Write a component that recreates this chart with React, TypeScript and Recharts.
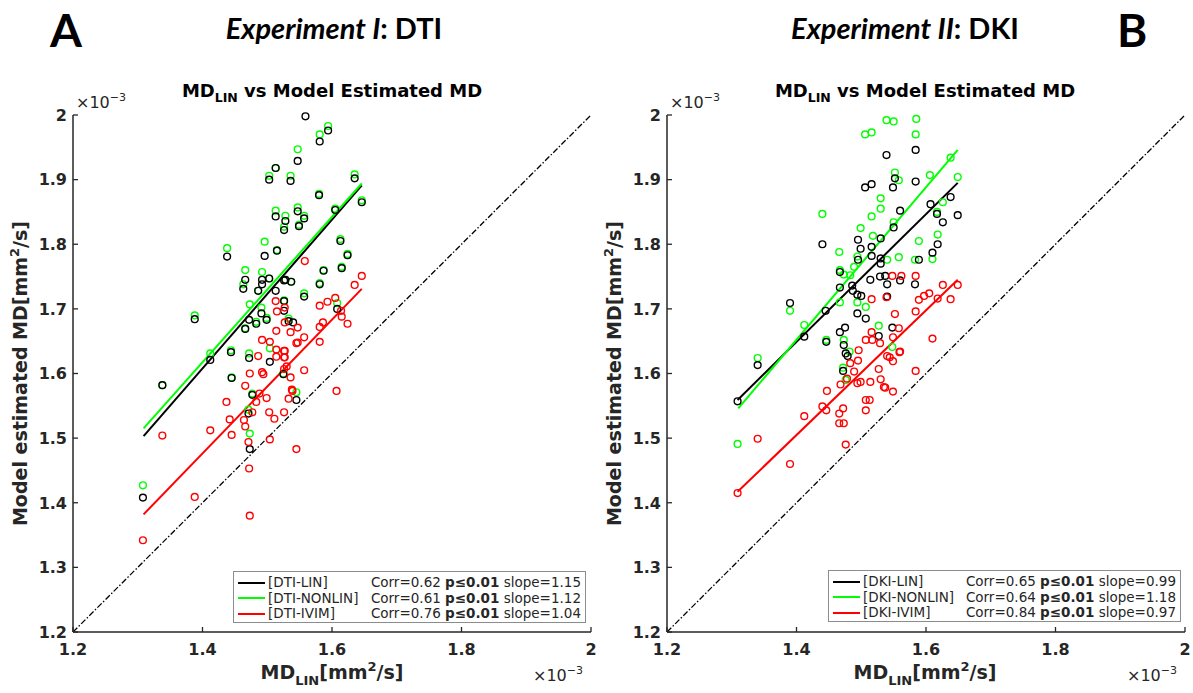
import React from "react";
import { ReferenceLine, Scatter, ScatterChart, XAxis, YAxis } from "recharts";

// values in units of 1e-3 mm^2/s: [MD_LIN, model estimated MD]
type P = [number, number];

const X_TICKS = [1.2, 1.4, 1.6, 1.8, 2];
const Y_TICKS = [1.2, 1.3, 1.4, 1.5, 1.6, 1.7, 1.8, 1.9, 2];

// Experiment I: DTI
const dtiLin: P[] = [
  [1.308, 1.408], [1.338, 1.582], [1.388, 1.684], [1.412, 1.621], [1.438, 1.781],
  [1.444, 1.633], [1.445, 1.593], [1.463, 1.731], [1.466, 1.745], [1.466, 1.669],
  [1.472, 1.683], [1.472, 1.624], [1.471, 1.538], [1.473, 1.483], [1.477, 1.567],
  [1.483, 1.677], [1.486, 1.728], [1.491, 1.693], [1.492, 1.745], [1.492, 1.738],
  [1.496, 1.782], [1.499, 1.683], [1.503, 1.747], [1.503, 1.9], [1.504, 1.618],
  [1.513, 1.918], [1.513, 1.843], [1.513, 1.728], [1.515, 1.79], [1.525, 1.599],
  [1.526, 1.822], [1.526, 1.744], [1.526, 1.712], [1.526, 1.697], [1.528, 1.836],
  [1.528, 1.745], [1.533, 1.681], [1.536, 1.898], [1.537, 1.742], [1.54, 1.679],
  [1.545, 1.559], [1.547, 1.929], [1.547, 1.851], [1.549, 1.828], [1.557, 1.84],
  [1.557, 1.719], [1.559, 1.998], [1.58, 1.876], [1.581, 1.959], [1.581, 1.738],
  [1.587, 1.759], [1.594, 1.976], [1.605, 1.853], [1.608, 1.7], [1.613, 1.805],
  [1.615, 1.763], [1.624, 1.783], [1.635, 1.902], [1.646, 1.865],
];
const dtiNonlin: P[] = [
  [1.308, 1.427], [1.338, 1.582], [1.388, 1.69], [1.412, 1.631], [1.438, 1.794],
  [1.444, 1.636], [1.445, 1.594], [1.463, 1.738], [1.466, 1.76], [1.466, 1.67],
  [1.471, 1.544], [1.472, 1.631], [1.473, 1.707], [1.473, 1.507], [1.477, 1.569],
  [1.483, 1.68], [1.486, 1.728], [1.491, 1.702], [1.492, 1.757], [1.496, 1.804],
  [1.499, 1.686], [1.503, 1.906], [1.503, 1.747], [1.504, 1.639], [1.513, 1.918],
  [1.513, 1.852], [1.515, 1.791], [1.525, 1.6], [1.526, 1.827], [1.526, 1.713],
  [1.528, 1.844], [1.528, 1.745], [1.533, 1.685], [1.536, 1.906], [1.537, 1.742],
  [1.545, 1.571], [1.547, 1.947], [1.547, 1.857], [1.549, 1.83], [1.557, 1.844],
  [1.557, 1.724], [1.58, 1.878], [1.581, 1.97], [1.581, 1.74], [1.587, 1.76],
  [1.594, 1.983], [1.605, 1.855], [1.608, 1.709], [1.613, 1.808], [1.615, 1.765],
  [1.624, 1.785], [1.635, 1.908], [1.646, 1.868],
];
const dtiIvim: P[] = [
  [1.308, 1.342], [1.338, 1.504], [1.388, 1.409], [1.412, 1.512], [1.437, 1.556],
  [1.442, 1.529], [1.445, 1.505], [1.464, 1.528], [1.466, 1.518], [1.471, 1.494],
  [1.473, 1.6], [1.466, 1.581], [1.472, 1.453], [1.473, 1.38], [1.486, 1.627],
  [1.488, 1.569], [1.483, 1.556], [1.499, 1.562], [1.477, 1.54], [1.503, 1.54],
  [1.511, 1.53], [1.504, 1.498], [1.492, 1.652], [1.504, 1.649], [1.492, 1.602],
  [1.494, 1.599], [1.513, 1.712], [1.515, 1.696], [1.514, 1.637], [1.527, 1.635],
  [1.527, 1.625], [1.514, 1.626], [1.526, 1.54], [1.545, 1.483], [1.526, 1.607],
  [1.53, 1.611], [1.536, 1.594], [1.538, 1.575], [1.533, 1.561], [1.557, 1.605],
  [1.547, 1.648], [1.557, 1.656], [1.536, 1.664], [1.547, 1.671], [1.527, 1.679],
  [1.514, 1.666], [1.527, 1.702], [1.558, 1.774], [1.581, 1.705], [1.593, 1.711],
  [1.605, 1.717], [1.614, 1.697], [1.615, 1.688], [1.624, 1.677], [1.581, 1.672],
  [1.586, 1.679], [1.646, 1.751], [1.635, 1.737], [1.581, 1.649], [1.607, 1.573],
  [1.539, 1.573], [1.526, 1.635], [1.526, 1.625], [1.545, 1.647],
];

// Experiment II: DKI
const dkiLin: P[] = [
  [1.309, 1.557], [1.34, 1.613], [1.39, 1.709], [1.412, 1.657], [1.44, 1.8],
  [1.445, 1.697], [1.446, 1.649], [1.467, 1.757], [1.467, 1.733], [1.467, 1.664],
  [1.473, 1.644], [1.472, 1.604], [1.475, 1.671], [1.476, 1.631], [1.479, 1.627],
  [1.486, 1.736], [1.487, 1.728], [1.494, 1.722], [1.494, 1.693], [1.495, 1.807],
  [1.495, 1.776], [1.499, 1.793], [1.5, 1.72], [1.506, 1.888], [1.507, 1.685],
  [1.514, 1.745], [1.516, 1.893], [1.516, 1.796], [1.516, 1.782], [1.527, 1.658],
  [1.529, 1.75], [1.53, 1.809], [1.53, 1.778], [1.53, 1.77], [1.537, 1.751],
  [1.539, 1.938], [1.54, 1.738], [1.54, 1.719], [1.548, 1.671], [1.549, 1.888],
  [1.55, 1.826], [1.552, 1.902], [1.56, 1.852], [1.56, 1.744], [1.583, 1.738],
  [1.584, 1.946], [1.584, 1.897], [1.589, 1.776], [1.607, 1.862], [1.61, 1.787],
  [1.617, 1.847], [1.618, 1.8], [1.626, 1.834], [1.638, 1.873], [1.649, 1.845],
];
const dkiNonlin: P[] = [
  [1.309, 1.491], [1.34, 1.624], [1.39, 1.697], [1.412, 1.675], [1.44, 1.847],
  [1.446, 1.652], [1.466, 1.788], [1.467, 1.76], [1.467, 1.71], [1.472, 1.609],
  [1.473, 1.753], [1.473, 1.652], [1.476, 1.59], [1.482, 1.634], [1.483, 1.752],
  [1.489, 1.765], [1.494, 1.781], [1.494, 1.71], [1.499, 1.825], [1.506, 1.97],
  [1.507, 1.703], [1.516, 1.973], [1.516, 1.843], [1.518, 1.813], [1.527, 1.674],
  [1.53, 1.871], [1.53, 1.855], [1.539, 1.992], [1.54, 1.776], [1.548, 1.641],
  [1.55, 1.99], [1.55, 1.834], [1.552, 1.911], [1.558, 1.899], [1.558, 1.78],
  [1.583, 1.776], [1.584, 1.97], [1.585, 1.994], [1.589, 1.805], [1.606, 1.907],
  [1.61, 1.777], [1.617, 1.85], [1.618, 1.815], [1.626, 1.865], [1.638, 1.934],
  [1.649, 1.904],
];
const dkiIvim: P[] = [
  [1.309, 1.415], [1.34, 1.499], [1.39, 1.46], [1.412, 1.534], [1.44, 1.549],
  [1.446, 1.543], [1.447, 1.573], [1.466, 1.538], [1.466, 1.523], [1.468, 1.583],
  [1.472, 1.546], [1.473, 1.523], [1.476, 1.49], [1.478, 1.592], [1.483, 1.616],
  [1.489, 1.603], [1.494, 1.585], [1.495, 1.62], [1.496, 1.636], [1.499, 1.587],
  [1.507, 1.652], [1.507, 1.559], [1.507, 1.543], [1.513, 1.559], [1.514, 1.587],
  [1.516, 1.664], [1.516, 1.715], [1.517, 1.652], [1.527, 1.607], [1.529, 1.647],
  [1.53, 1.591], [1.535, 1.579], [1.537, 1.578], [1.539, 1.718], [1.54, 1.627],
  [1.544, 1.625], [1.548, 1.751], [1.549, 1.656], [1.549, 1.619], [1.549, 1.572],
  [1.552, 1.692], [1.558, 1.67], [1.559, 1.633], [1.56, 1.634], [1.562, 1.751],
  [1.584, 1.751], [1.584, 1.696], [1.584, 1.604], [1.589, 1.714], [1.597, 1.72],
  [1.605, 1.724], [1.61, 1.654], [1.618, 1.716], [1.626, 1.737], [1.638, 1.715],
  [1.649, 1.737],
];

// least-squares lines (endpoints), order: LIN, NONLIN, IVIM
const dtiFits: [P, P][] = [
  [[1.309, 1.503], [1.646, 1.891]],
  [[1.309, 1.515], [1.646, 1.894]],
  [[1.309, 1.382], [1.646, 1.731]],
];
const dkiFits: [P, P][] = [
  [[1.309, 1.559], [1.649, 1.895]],
  [[1.31, 1.546], [1.649, 1.946]],
  [[1.309, 1.417], [1.649, 1.745]],
];

const dtiNames = ["DTI-LIN", "DTI-NONLIN", "DTI-IVIM"];
const dkiNames = ["DKI-LIN", "DKI-NONLIN", "DKI-IVIM"];
const dtiCorr = [0.62, 0.61, 0.76];
const dkiCorr = [0.65, 0.64, 0.84];
const dtiSlope = [1.15, 1.12, 1.04];
const dkiSlope = [0.99, 1.18, 0.97];

const COLORS = ["#000000", "#00ff00", "#ff0000"]; // LIN, NONLIN, IVIM
const AXIS = "#262626";
const FONT = "'DejaVu Sans', sans-serif";
const HEAD_FONT = "Lato, 'Open Sans', sans-serif";

const PLOT_TOP = 115;
const PLOT_W = 518;
const PLOT_H = 517;
const Y_W = 60;
const X_H = 50;
const MARGIN = { top: 12, right: 16, bottom: 0, left: 0 };

const fmt = (v: number) => (v === 2 ? "2" : v.toFixed(1));
const toPts = (arr: P[]) => arr.map(([x, y]) => ({ x, y }));

const ring = (color: string) => (props: any) =>
  <circle cx={props.cx} cy={props.cy} r={3.4} fill="none" stroke={color} strokeWidth={1.4} />;

function YTick(props: any) {
  const { x, y, payload } = props;
  return (
    <g>
      <line x1={x + 6} x2={x + 11} y1={y} y2={y} stroke={AXIS} strokeWidth={1.3} />
      <text x={x} y={y} dy="0.36em" textAnchor="end" fill={AXIS}
        fontFamily={FONT} fontWeight="bold" fontSize={16}>
        {fmt(payload.value)}
      </text>
    </g>
  );
}

function XTick(props: any) {
  const { x, y, payload } = props;
  return (
    <g>
      <line x1={x} x2={x} y1={y - 11} y2={y - 16} stroke={AXIS} strokeWidth={1.3} />
      <text x={x} y={y} dy="0.75em" textAnchor="middle" fill={AXIS}
        fontFamily={FONT} fontWeight="bold" fontSize={16}>
        {fmt(payload.value)}
      </text>
    </g>
  );
}

type PanelProps = {
  plotLeft: number;
  series: P[][]; // LIN, NONLIN, IVIM
  fits: [P, P][];
};

function Panel({ plotLeft, series, fits }: PanelProps) {
  const [lin, nonlin, ivim] = series;
  return (
    <div style={{ position: "absolute", left: plotLeft - Y_W, top: PLOT_TOP - MARGIN.top }}>
      <ScatterChart width={Y_W + PLOT_W + MARGIN.right} height={MARGIN.top + PLOT_H + X_H} margin={MARGIN}>
        <XAxis type="number" dataKey="x" domain={[1.2, 2]} ticks={X_TICKS} height={X_H}
          axisLine={{ stroke: AXIS, strokeWidth: 1.5 }} tickLine={false} tickSize={0} tickMargin={11}
          tick={<XTick />} interval={0} />
        <YAxis type="number" dataKey="y" domain={[1.2, 2]} ticks={Y_TICKS} width={Y_W}
          axisLine={{ stroke: AXIS, strokeWidth: 1.5 }} tickLine={false} tickSize={0} tickMargin={6}
          tick={<YTick />} interval={0} />
        <ReferenceLine segment={[{ x: 1.2, y: 1.2 }, { x: 2, y: 2 }]} stroke="#000"
          strokeWidth={1.3} strokeDasharray="6 2 1.5 2" />
        <Scatter data={toPts(nonlin)} shape={ring(COLORS[1])} isAnimationActive={false} />
        <Scatter data={toPts(lin)} shape={ring(COLORS[0])} isAnimationActive={false} />
        <Scatter data={toPts(ivim)} shape={ring(COLORS[2])} isAnimationActive={false} />
        {fits.map(([a, b], i) => (
          <ReferenceLine key={i} segment={[{ x: a[0], y: a[1] }, { x: b[0], y: b[1] }]}
            stroke={COLORS[i]} strokeWidth={2} />
        ))}
      </ScatterChart>
    </div>
  );
}

type LegendProps = {
  left: number;
  top: number;
  names: string[];
  corr: number[];
  slope: number[];
};

function LegendBox({ left, top, names, corr, slope }: LegendProps) {
  return (
    <div style={{
      position: "absolute", left, top, width: 353, height: 52, boxSizing: "border-box",
      border: "1px solid #8c8c8c", background: "#fff", padding: "3px 4px 0 4px",
      fontFamily: FONT, fontSize: 13.5, lineHeight: "15.5px", color: AXIS,
    }}>
      {names.map((n, i) => (
        <div key={n} style={{ display: "flex", alignItems: "center", whiteSpace: "nowrap" }}>
          <span style={{ width: 27, borderTop: `2px solid ${COLORS[i]}`, marginRight: 3 }} />
          <span>[{n}]</span>
          <span style={{ marginLeft: "auto" }}>
            Corr={corr[i].toFixed(2)} <b>p≤0.01</b> slope={slope[i].toFixed(2)}
          </span>
        </div>
      ))}
    </div>
  );
}

function Labels({ cx, plotLeft, ylabX }: { cx: number; plotLeft: number; ylabX: number }) {
  const cy = PLOT_TOP + PLOT_H / 2;
  return (
    <g fill={AXIS} fontFamily={FONT}>
      <text x={cx} y={97} textAnchor="middle" fontWeight="bold" fontSize={18} fill="#000">
        MD<tspan dy={5} fontSize={12.5}>LIN</tspan><tspan dy={-5}> vs Model Estimated MD</tspan>
      </text>
      <text x={plotLeft + 3} y={108} fontSize={16}>
        ×10<tspan dy={-7} fontSize={11}>−3</tspan>
      </text>
      <text x={plotLeft + PLOT_W - 58} y={681} fontSize={16}>
        ×10<tspan dy={-7} fontSize={11}>−3</tspan>
      </text>
      <text x={cx} y={679} textAnchor="middle" fontWeight="bold" fontSize={19}>
        MD<tspan dy={6} fontSize={13}>LIN</tspan><tspan dy={-6}>[mm</tspan>
        <tspan dy={-8} fontSize={13}>2</tspan><tspan dy={8}>/s]</tspan>
      </text>
      <text x={ylabX} y={cy} transform={`rotate(-90 ${ylabX} ${cy})`} textAnchor="middle"
        fontWeight="bold" fontSize={19}>
        Model estimated MD[mm<tspan dy={-8} fontSize={13}>2</tspan><tspan dy={8}>/s]</tspan>
      </text>
    </g>
  );
}

export default function App() {
  return (
    <div style={{ position: "absolute", left: 0, top: 0, width: 1193, height: 693, background: "#fff", overflow: "hidden" }}>
      <Panel plotLeft={73} series={[dtiLin, dtiNonlin, dtiIvim]} fits={dtiFits} />
      <Panel plotLeft={667} series={[dkiLin, dkiNonlin, dkiIvim]} fits={dkiFits} />
      <svg width={1193} height={693} style={{ position: "absolute", left: 0, top: 0, pointerEvents: "none" }}>
        <text x={50} y={47} fontFamily={HEAD_FONT} fontWeight="bold" fontSize={46}>A</text>
        <text x={1117} y={47} fontFamily={HEAD_FONT} fontWeight="bold" fontSize={46}>B</text>
        <text x={334} y={39} textAnchor="middle" fontFamily={HEAD_FONT} fontWeight="bold" fontSize={29}>
          <tspan fontStyle="italic">Experiment I</tspan>: DTI
        </text>
        <text x={905} y={39} textAnchor="middle" fontFamily={HEAD_FONT} fontWeight="bold" fontSize={29}>
          <tspan fontStyle="italic">Experiment II</tspan>: DKI
        </text>
        <Labels cx={332} plotLeft={73} ylabX={27} />
        <Labels cx={925} plotLeft={667} ylabX={621} />
      </svg>
      <LegendBox left={233} top={571} names={dtiNames} corr={dtiCorr} slope={dtiSlope} />
      <LegendBox left={828} top={570} names={dkiNames} corr={dkiCorr} slope={dkiSlope} />
    </div>
  );
}
